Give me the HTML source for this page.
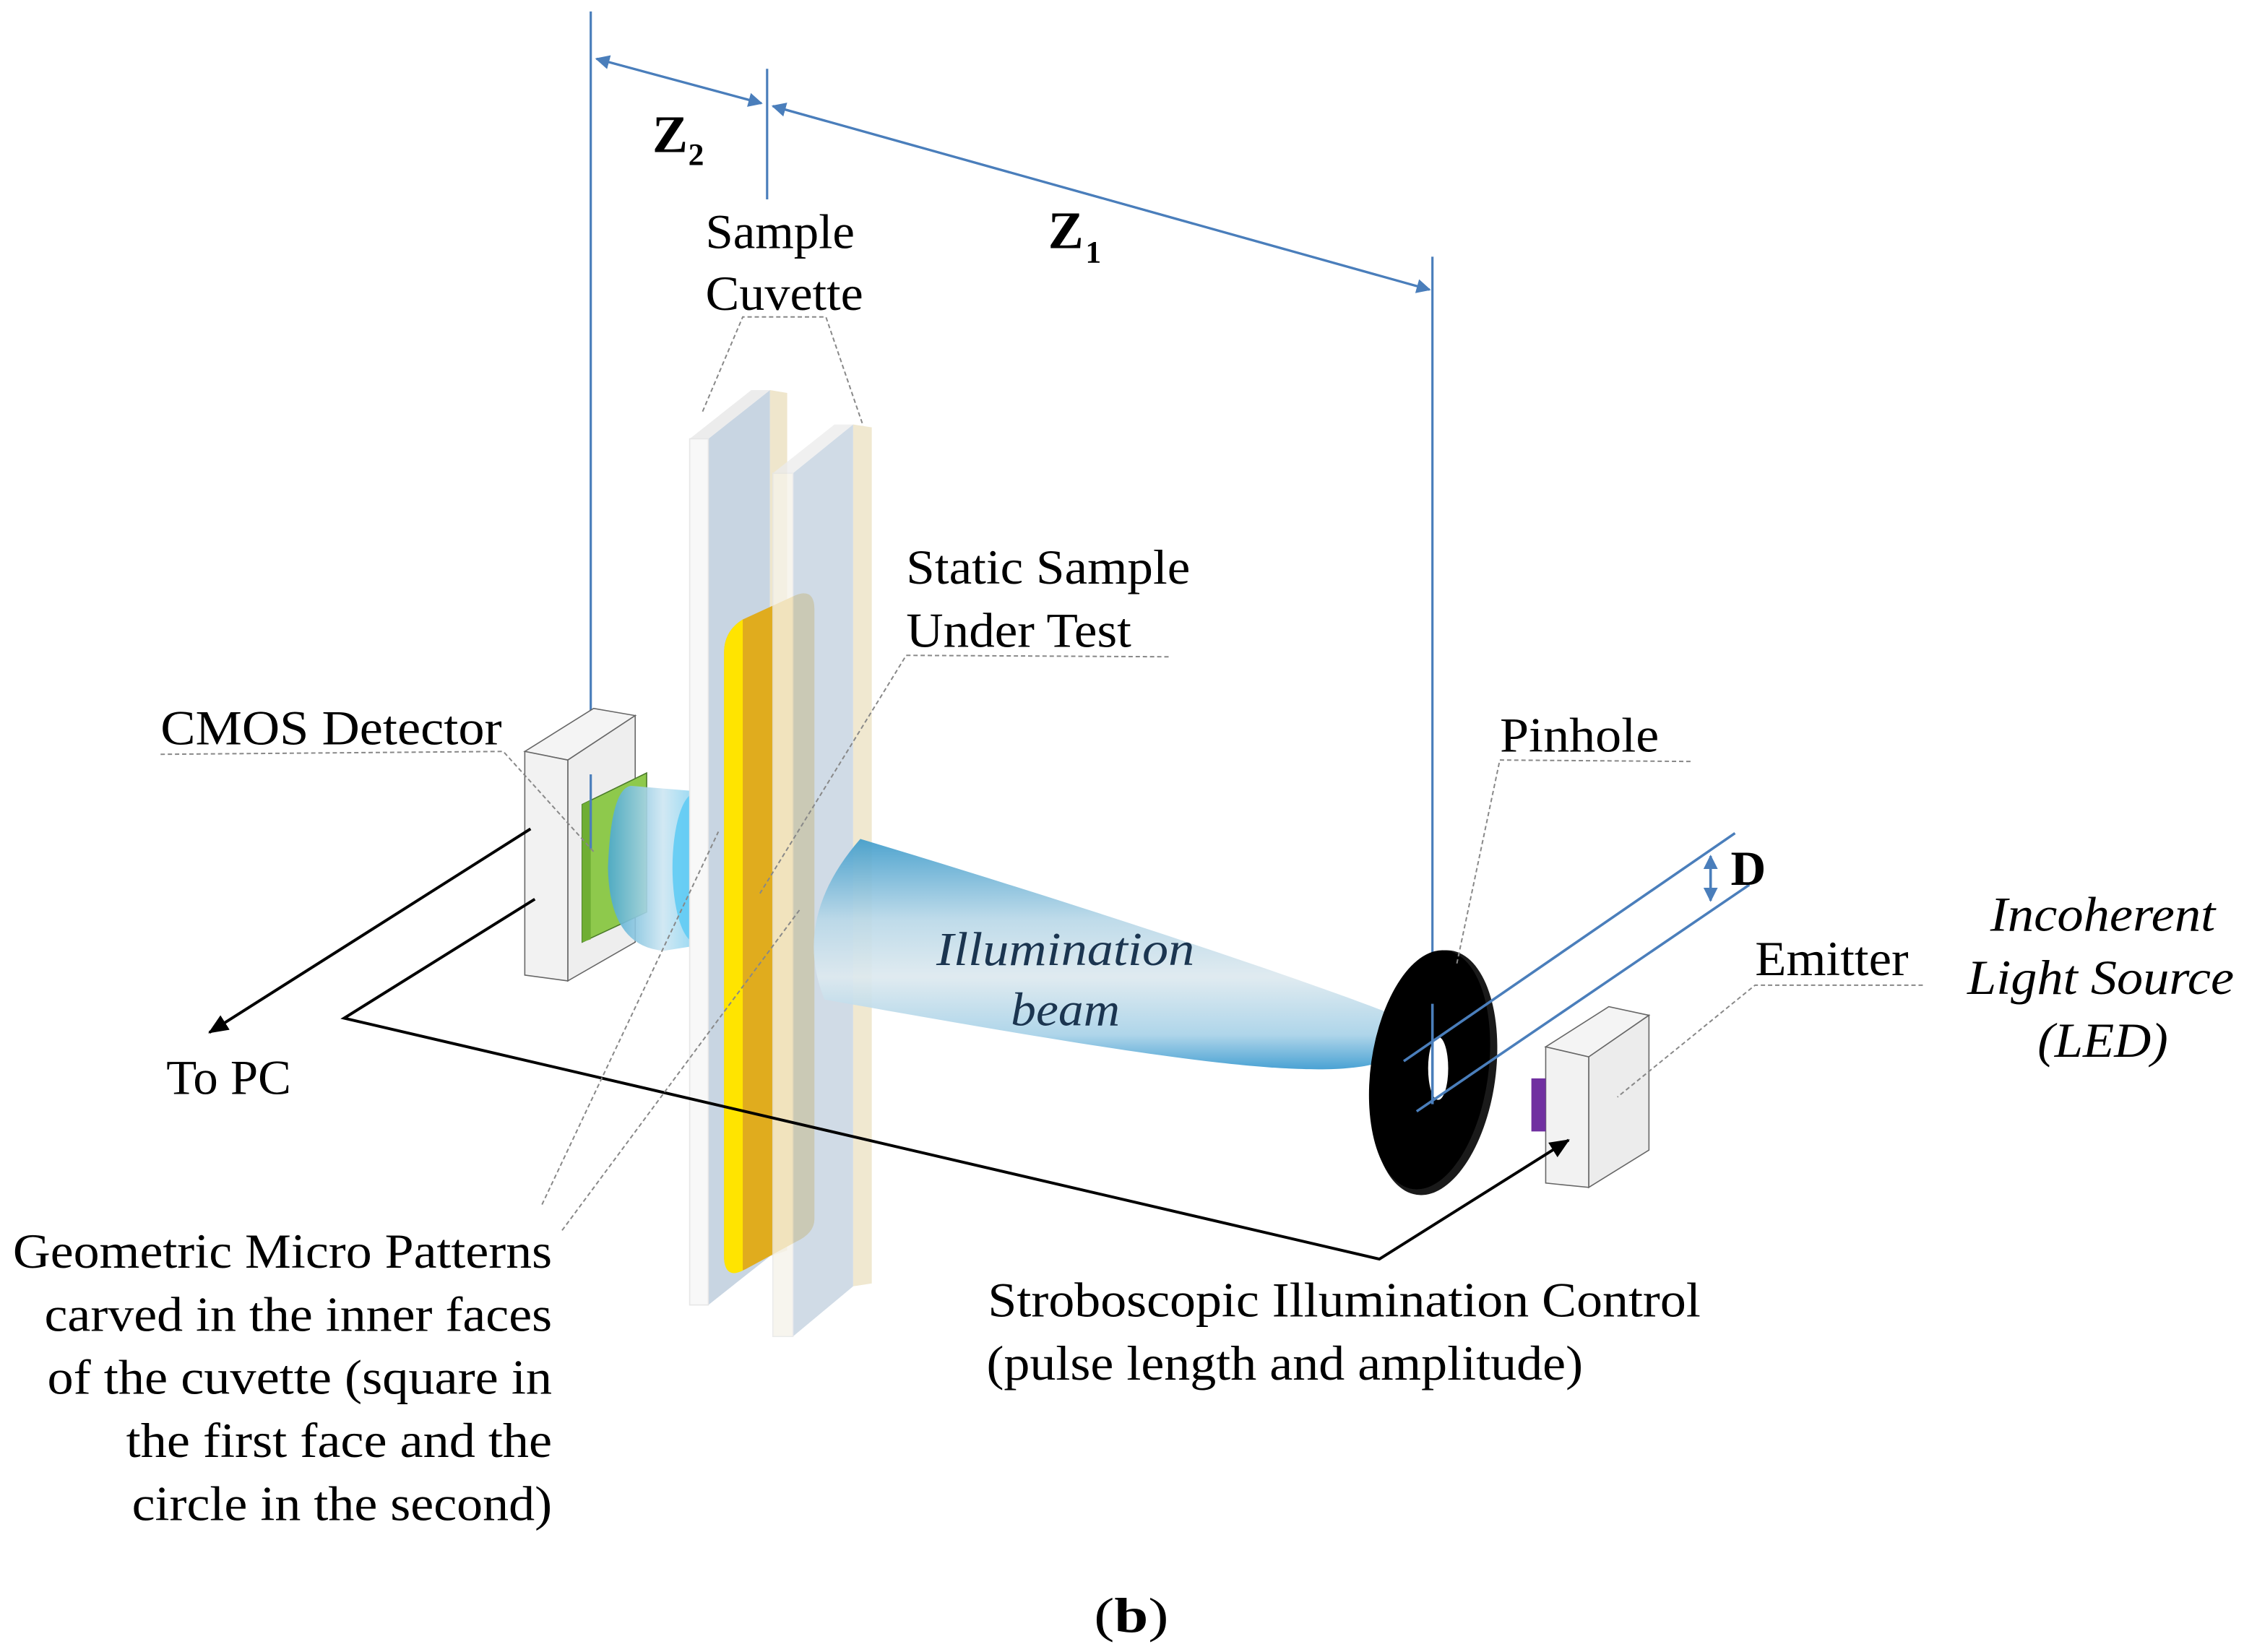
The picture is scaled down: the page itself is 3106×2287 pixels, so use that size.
<!DOCTYPE html>
<html><head><meta charset="utf-8"><style>html,body{margin:0;padding:0;background:#fff}svg{display:block}</style></head>
<body>
<svg width="3106" height="2287" viewBox="0 0 1565 1152" preserveAspectRatio="none" xmlns="http://www.w3.org/2000/svg" font-family="'Liberation Serif', serif">
<defs>
<linearGradient id="beam" x1="0" y1="0" x2="0" y2="1">
<stop offset="0" stop-color="#3f9ccb"/><stop offset="0.35" stop-color="#b9d8e8"/><stop offset="0.6" stop-color="#dde9ef"/><stop offset="0.85" stop-color="#a8d2e8"/><stop offset="1" stop-color="#3a9ad0"/></linearGradient>
<linearGradient id="lens" x1="0" y1="0" x2="1" y2="0">
<stop offset="0" stop-color="#4aa8d0"/><stop offset="0.5" stop-color="#cde6f2"/><stop offset="1" stop-color="#5cc8f2"/></linearGradient>
<marker id="ab" markerWidth="10" markerHeight="10" refX="9" refY="5" orient="auto" markerUnits="userSpaceOnUse"><path d="M0,0 L10,5 L0,10 z" fill="#4a7ebb"/></marker>
<marker id="ak" markerWidth="14" markerHeight="12" refX="13" refY="6" orient="auto" markerUnits="userSpaceOnUse"><path d="M0,0 L14,6 L0,12 z" fill="#000"/></marker>
</defs>

<!-- dimension lines -->
<g stroke="#4a7ebb" stroke-width="1.6" fill="none">
<line x1="412" y1="8" x2="412" y2="592"/>
<line x1="535" y1="48" x2="535" y2="139"/>
<line x1="999" y1="179" x2="999" y2="760"/>
<line x1="531" y1="72" x2="416" y2="41" marker-end="url(#ab)"/>
<line x1="416" y1="41" x2="531" y2="72" marker-end="url(#ab)"/>
<line x1="539" y1="74" x2="997" y2="202" marker-end="url(#ab)"/>
<line x1="997" y1="202" x2="539" y2="74" marker-end="url(#ab)"/>
</g>
<text x="455" y="106" font-size="37" font-weight="bold">Z</text><text x="480" y="115" font-size="22" font-weight="bold">2</text>
<text x="731" y="173" font-size="37" font-weight="bold">Z</text><text x="757" y="183" font-size="22" font-weight="bold">1</text>

<!-- detector -->
<g stroke="#666" stroke-width="0.8">
<polygon points="366,524 414,494 443,499 396,530" fill="#f4f4f4"/>
<polygon points="396,530 443,499 443,657 396,684" fill="#eeeeee"/>
<polygon points="366,524 396,530 396,684 366,680" fill="#f2f2f2"/>
</g>
<polygon points="406,561 451,539 451,636 406,657" fill="#8ec94c" stroke="#4a7a2a" stroke-width="0.8"/>
<polygon points="406,561 412,558 412,655 406,657" fill="#6fae34"/>
<line x1="412" y1="540" x2="412" y2="592" stroke="#4a7ebb" stroke-width="1.6"/>
<!-- small lens -->
<path d="M440,548 L501,553 L501,657 L463,663 Q425,660 424,605 Q426,550 440,548 Z" fill="url(#lens)" opacity="0.9"/>
<ellipse cx="485" cy="605" rx="16" ry="52" fill="#5ccaf3" opacity="0.85"/>

<!-- plate 1 -->
<polygon points="494,306 537,272 537,876 494,910" fill="#c8d5e2"/>
<polygon points="481,306 524,272 537,272 494,306" fill="#ececec"/>
<rect x="481" y="306" width="13" height="604" fill="#f8f8f8" stroke="#e6e6e6" stroke-width="0.8"/>
<polygon points="537,272 549,274 549,872 537,876" fill="#efe6cc"/>

<!-- sample -->
<path d="M505,455 Q505,440 518,432 L555,415 Q568,410 568,425 L568,850 Q568,860 555,866 L520,885 Q506,892 505,878 Z" fill="#e0ac1e"/>
<path d="M505,455 Q505,440 518,432 L518,886 Q506,892 505,878 Z" fill="#ffe400"/>

<!-- plate 2 -->
<g opacity="0.78">
<polygon points="553,330 595,296 595,897 553,932" fill="#c4d2e0"/>
<polygon points="539,330 582,296 595,296 553,330" fill="#ececec"/>
<rect x="539" y="330" width="14" height="602" fill="#f6f3ea" stroke="#e6e6e6" stroke-width="0.8"/>
<polygon points="595,296 608,298 608,895 595,897" fill="#ece2c4"/>
</g>

<!-- beam -->
<path d="M600,585 C750,630 900,680 965,705 Q976,724 965,740 C920,756 800,737 575,697 Q552,640 600,585 Z" fill="url(#beam)" opacity="0.92"/>
<text x="653" y="673" font-size="33" font-style="italic" fill="#1b3550" textLength="180" lengthAdjust="spacingAndGlyphs">Illumination</text>
<text x="705" y="715" font-size="33" font-style="italic" fill="#1b3550" textLength="76" lengthAdjust="spacingAndGlyphs">beam</text>

<!-- pinhole -->
<ellipse cx="1000" cy="748" rx="43" ry="86" fill="#1a1a1a" transform="rotate(8 1000 748)"/>
<ellipse cx="997" cy="746" rx="41" ry="84" fill="#000" transform="rotate(8 997 746)"/>
<ellipse cx="1003" cy="745" rx="7" ry="22" fill="#fff"/>
<g stroke="#4a7ebb" stroke-width="1.8">
<line x1="999" y1="700" x2="999" y2="770"/>
<line x1="979" y1="740" x2="1210" y2="581"/>
<line x1="988" y1="775" x2="1220" y2="617"/>
<line x1="1193" y1="602" x2="1193" y2="628" marker-end="url(#ab)"/>
<line x1="1193" y1="628" x2="1193" y2="597" marker-end="url(#ab)"/>
</g>
<text x="1207" y="617" font-size="34" font-weight="bold">D</text>

<!-- emitter -->
<g stroke="#666" stroke-width="0.8">
<polygon points="1078,730 1122,702 1150,708 1108,737" fill="#f4f4f4"/>
<polygon points="1108,737 1150,708 1150,802 1108,828" fill="#ececec"/>
<polygon points="1078,730 1108,737 1108,828 1078,825" fill="#f2f2f2"/>
</g>
<rect x="1068" y="752" width="10" height="37" fill="#7030a0"/>

<!-- control wires -->
<g stroke="#000" stroke-width="2" fill="none">
<line x1="370" y1="578" x2="146" y2="720" marker-end="url(#ak)"/>
<polyline points="373,627 240,710 962,878 1094,795" marker-end="url(#ak)"/>
</g>

<!-- leaders -->
<g stroke="#888" stroke-width="1" stroke-dasharray="3,2" fill="none">
<polyline points="490,287 518,221 576,221 602,297"/>
<polyline points="112,526 351,524 415,595"/>
<polyline points="815,458 632,457 530,623"/>
<polyline points="1179,531 1046,530 1016,672"/>
<polyline points="1341,687 1224,687 1128,765"/>
<line x1="378" y1="840" x2="501" y2="580"/>
<line x1="392" y1="858" x2="558" y2="634"/>
</g>

<!-- labels -->
<g font-size="34" fill="#000">
<text x="492" y="173" textLength="104" lengthAdjust="spacingAndGlyphs">Sample</text>
<text x="492" y="216" textLength="110" lengthAdjust="spacingAndGlyphs">Cuvette</text>
<text x="632" y="407" textLength="198" lengthAdjust="spacingAndGlyphs">Static Sample</text>
<text x="632" y="451" textLength="157" lengthAdjust="spacingAndGlyphs">Under Test</text>
<text x="112" y="519" textLength="238" lengthAdjust="spacingAndGlyphs">CMOS Detector</text>
<text x="116" y="763" textLength="87" lengthAdjust="spacingAndGlyphs">To PC</text>
<text x="1046" y="524" textLength="111" lengthAdjust="spacingAndGlyphs">Pinhole</text>
<text x="1224" y="680" textLength="107" lengthAdjust="spacingAndGlyphs">Emitter</text>
<text x="1388" y="649" font-style="italic" textLength="157" lengthAdjust="spacingAndGlyphs">Incoherent</text>
<text x="1372" y="693" font-style="italic" textLength="186" lengthAdjust="spacingAndGlyphs">Light Source</text>
<text x="1421" y="737" font-style="italic" textLength="91" lengthAdjust="spacingAndGlyphs">(LED)</text>
<text x="689" y="918" textLength="497" lengthAdjust="spacingAndGlyphs">Stroboscopic Illumination Control</text>
<text x="688" y="962" textLength="416" lengthAdjust="spacingAndGlyphs">(pulse length and amplitude)</text>
<text x="9" y="884" textLength="376" lengthAdjust="spacingAndGlyphs">Geometric Micro Patterns</text>
<text x="31" y="928" textLength="354" lengthAdjust="spacingAndGlyphs">carved in the inner faces</text>
<text x="33" y="972" textLength="352" lengthAdjust="spacingAndGlyphs">of the cuvette (square in</text>
<text x="88" y="1016" textLength="297" lengthAdjust="spacingAndGlyphs">the first face and the</text>
<text x="92" y="1060" textLength="293" lengthAdjust="spacingAndGlyphs">circle in the second)</text>
<text x="763" y="1138" textLength="52" lengthAdjust="spacingAndGlyphs">(<tspan font-weight="bold">b</tspan>)</text>
</g>
</svg>
</body></html>
